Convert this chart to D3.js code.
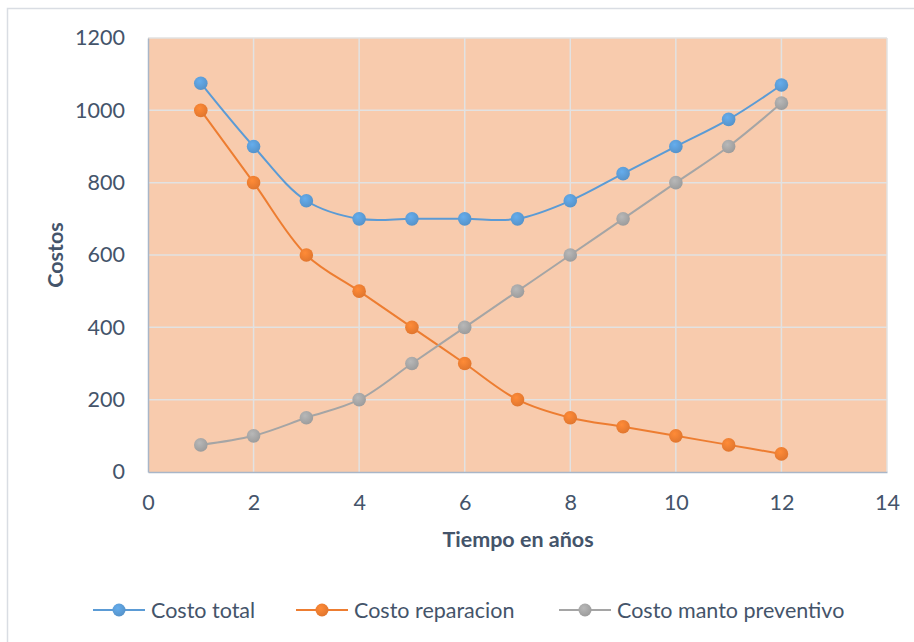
<!DOCTYPE html>
<html>
<head>
<meta charset="utf-8">
<script src="https://cdn.jsdelivr.net/npm/d3@7"></script>
<style>
  html, body { margin: 0; padding: 0; background: #fff; }
  svg { display: block; font-family: Lato, "Open Sans", sans-serif; }
</style>
</head>
<body>
<svg id="chart" width="914" height="642"></svg>
<script>
// Years and cost series
const years = [1, 2, 3, 4, 5, 6, 7, 8, 9, 10, 11, 12];
const costoTotal = [1075, 900, 750, 700, 700, 700, 700, 750, 825, 900, 975, 1070];
const costoReparacion = [1000, 800, 600, 500, 400, 300, 200, 150, 125, 100, 75, 50];
const costoManto = [75, 100, 150, 200, 300, 400, 500, 600, 700, 800, 900, 1020];
const seriesNames = ["Costo total", "Costo reparacion", "Costo manto preventivo"];
const seriesColors = ["#5b9bd5", "#ed7d31", "#a5a5a5"];
const xTicks = [0, 2, 4, 6, 8, 10, 12, 14];
const yTicks = [0, 200, 400, 600, 800, 1000, 1200];

const series = [costoTotal, costoReparacion, costoManto].map((vals, i) => ({
  name: seriesNames[i],
  color: seriesColors[i],
  points: years.map((y, j) => ({ x: y, y: vals[j] }))
}));

const svg = d3.select("#chart");
const textColor = "#44546a";
const fontSize = 21.5;

// outer chart frame
svg.append("rect")
  .attr("x", 7.5).attr("y", 8.5).attr("width", 912).attr("height", 640)
  .attr("fill", "#fff").attr("stroke", "#d9dde3").attr("stroke-width", 1.5);

const plot = { left: 148, top: 38, right: 887, bottom: 472 };

const x = d3.scaleLinear().domain([0, 14]).range([plot.left, plot.right]);
const y = d3.scaleLinear().domain([0, 1200]).range([plot.bottom, plot.top]);

// plot background
svg.append("rect")
  .attr("x", plot.left).attr("y", plot.top)
  .attr("width", plot.right - plot.left).attr("height", plot.bottom - plot.top)
  .attr("fill", "#f8cbad");

// gridlines
const grid = svg.append("g");
grid.selectAll("line.h").data(yTicks.slice(1)).join("line")
  .attr("x1", plot.left).attr("x2", plot.right)
  .attr("y1", d => y(d)).attr("y2", d => y(d))
  .attr("stroke", "#e2e2e2").attr("stroke-width", 1.5);
grid.selectAll("line.v").data(xTicks.slice(1)).join("line")
  .attr("y1", plot.top).attr("y2", plot.bottom)
  .attr("x1", d => x(d)).attr("x2", d => x(d))
  .attr("stroke", "#e2e2e2").attr("stroke-width", 1.5);

// axes
const fmt = d3.format("d");
const xAxis = d3.axisBottom(x).tickValues(xTicks).tickFormat(fmt).tickSize(0).tickPadding(23);
const yAxis = d3.axisLeft(y).tickValues(yTicks).tickFormat(fmt).tickSize(0).tickPadding(23);

const gx = svg.append("g").attr("transform", `translate(0,${plot.bottom})`).call(xAxis);
const gy = svg.append("g").attr("transform", `translate(${plot.left},0)`).call(yAxis);
[gx, gy].forEach(g => {
  g.attr("font-size", fontSize).attr("font-family", "Lato, 'Open Sans', sans-serif");
  g.select(".domain").attr("stroke", "#a9b6c8").attr("stroke-width", 1.5);
  g.selectAll("text").attr("fill", textColor);
});

// axis titles
svg.append("text")
  .attr("x", 518).attr("y", 547)
  .attr("text-anchor", "middle").attr("font-size", fontSize).attr("font-weight", "bold")
  .attr("fill", textColor).text("Tiempo en años");
svg.append("text")
  .attr("transform", `translate(63,255) rotate(-90)`)
  .attr("text-anchor", "middle").attr("font-size", fontSize).attr("font-weight", "bold")
  .attr("fill", textColor).text("Costos");

// marker shading
const defs = svg.append("defs");
series.forEach((s, i) => {
  const g = defs.append("radialGradient").attr("id", "mk" + i)
    .attr("cx", "40%").attr("cy", "35%").attr("r", "65%");
  g.append("stop").attr("offset", "0%").attr("stop-color", d3.color(s.color).brighter(0.3));
  g.append("stop").attr("offset", "100%").attr("stop-color", d3.color(s.color).darker(0.15));
});

const line = d3.line().x(d => x(d.x)).y(d => y(d.y)).curve(d3.curveCatmullRom.alpha(0.5));

const gs = svg.append("g").selectAll("g").data(series).join("g");
gs.append("path")
  .attr("d", d => line(d.points))
  .attr("fill", "none").attr("stroke", d => d.color).attr("stroke-width", 2);
gs.each(function(s, i) {
  d3.select(this).selectAll("circle").data(s.points).join("circle")
    .attr("cx", d => x(d.x)).attr("cy", d => y(d.y)).attr("r", 6.8)
    .attr("fill", `url(#mk${i})`);
});

// legend
const legendItems = [
  { x0: 93, tx: 151 },
  { x0: 296, tx: 354 },
  { x0: 559, tx: 617 }
];
const legendY = 610;
const lg = svg.append("g").selectAll("g").data(series).join("g");
lg.append("line")
  .attr("x1", (d, i) => legendItems[i].x0).attr("x2", (d, i) => legendItems[i].x0 + 52)
  .attr("y1", legendY).attr("y2", legendY)
  .attr("stroke", d => d.color).attr("stroke-width", 2);
lg.append("circle")
  .attr("cx", (d, i) => legendItems[i].x0 + 26).attr("cy", legendY).attr("r", 6.5)
  .attr("fill", (d, i) => `url(#mk${i})`);
lg.append("text")
  .attr("x", (d, i) => legendItems[i].tx).attr("y", legendY + 7.5)
  .attr("font-size", fontSize).attr("fill", textColor)
  .text(d => d.name);
</script>
</body>
</html>
